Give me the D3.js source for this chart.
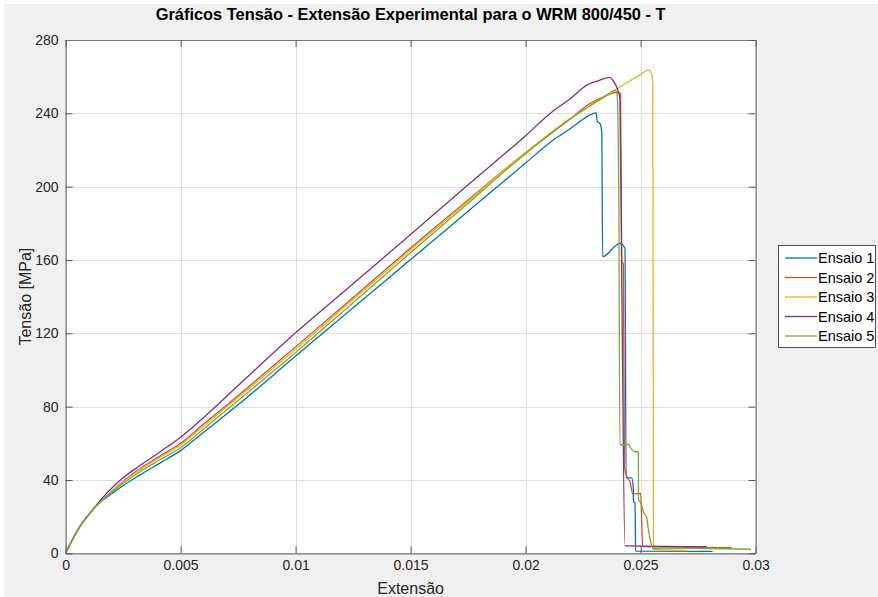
<!DOCTYPE html>
<html>
<head>
<meta charset="utf-8">
<script src="https://cdn.jsdelivr.net/npm/d3@7"></script>
<style>
  body { margin: 0; background: #fff; }
  svg { display: block; font-family: "Liberation Sans", Arial, sans-serif; }
</style>
</head>
<body>
<svg id="chart"></svg>
<script>
// data, [extensão, tensão MPa]
var seriesNames = ["Ensaio 1", "Ensaio 2", "Ensaio 3", "Ensaio 4", "Ensaio 5"];
var seriesColors = ["#0072BD", "#D95319", "#EDB120", "#7E2F8E", "#77AC30"];

var ensaio1 = [[0,0],[0.0003,7.5],[0.00063,14.8],[0.001,21],[0.0013,25.4],[0.0016,28.8],[0.002,32.5],
  [0.0025,37],[0.0032,42.5],[0.0041,49.2],[0.005,56],[0.006,66],[0.0075,81],[0.01,107.6],[0.0125,134],[0.015,160.2],
  [0.0175,186.6],[0.02,212.9],[0.0212,225.4],[0.0219,231.3],[0.02266,238.1],[0.02306,240.3],[0.02312,235.4],
  [0.02323,234.5],[0.02331,230],[0.02335,161.8],[0.0241,169.1],[0.02432,166.4],[0.02437,41.1],[0.02461,41.1],
  [0.02468,36.3],[0.02469,28.1],[0.02476,27.4],[0.02478,1.2],[0.02813,1.0]];

var ensaio2 = [[0,0],[0.0003,7.5],[0.00063,14.8],[0.001,21],[0.0013,25.4],[0.0016,29.3],[0.002,33.8],
  [0.0025,39.3],[0.0032,45.8],[0.0041,53],[0.005,60],[0.006,70.5],[0.0075,86],[0.01,112.6],[0.0125,139.5],[0.015,166.5],
  [0.0175,192.7],[0.02,218.6],[0.0219,236.5],[0.0227,244.5],[0.0235,249.5],[0.02396,251.5],[0.02413,250.9],
  [0.02418,159],[0.02425,158.2],[0.0243,47.2],[0.0244,41.8],[0.02454,39.1],[0.02466,32.3],[0.025,32.7],
  [0.02509,3.6],[0.02896,3.1]];

var ensaio3 = [[0,0],[0.0003,7.5],[0.00063,14.8],[0.001,21],[0.0013,25.4],[0.0016,29.2],[0.002,33.6],
  [0.0025,39],[0.0032,45.3],[0.0041,52.4],[0.005,59.1],[0.006,69.5],[0.0075,85],[0.01,111.3],[0.0125,138.4],[0.015,165.5],
  [0.0175,192],[0.02,218.6],[0.0219,236.7],[0.0235,249.5],[0.02454,257.8],[0.02497,260.9],[0.02533,263.6],
  [0.02548,261.4],[0.02553,255],[0.02556,2.2],[0.02704,1.5]];

var ensaio4 = [[0,0],[0.0003,7.5],[0.00063,14.8],[0.001,21],[0.0013,25.6],[0.0016,30.2],[0.002,35.5],
  [0.0025,41.2],[0.0032,47.6],[0.0041,55.3],[0.005,63.3],[0.006,74],[0.0075,91.5],[0.01,120.3],[0.0125,147],[0.015,173.9],
  [0.0175,201],[0.02,227.8],[0.0212,241.3],[0.0219,247.5],[0.02266,255.4],[0.02323,258.1],[0.02364,259.6],
  [0.02379,258.1],[0.02403,251.8],[0.0241,248],[0.02418,150],[0.02432,4],[0.02787,3.6]];

var ensaio5 = [[0,0],[0.0003,7.5],[0.00063,14.8],[0.001,21],[0.0013,25.4],[0.0016,29],[0.002,33.2],
  [0.0025,38.2],[0.0032,44.2],[0.0041,51],[0.005,57.6],[0.006,67.8],[0.0075,83.3],[0.01,109.5],[0.0125,136.7],[0.015,164],
  [0.0175,191],[0.02,218],[0.0219,236.7],[0.0235,249.8],[0.02381,252.3],[0.02389,252.7],[0.02398,250],
  [0.02405,200],[0.0241,59.1],[0.02447,59.6],[0.02454,58],[0.02476,55.4],[0.0249,55.4],[0.02491,29.1],
  [0.02502,27.3],[0.02512,22.7],[0.02527,19.1],[0.02534,12.7],[0.02545,5.5],[0.02555,2.7],[0.02606,2.9],
  [0.0298,2.2]];

var xTickValues = [0, 0.005, 0.01, 0.015, 0.02, 0.025, 0.03];
var xTickLabels = ["0", "0.005", "0.01", "0.015", "0.02", "0.025", "0.03"];
var yTickValues = [0, 40, 80, 120, 160, 200, 240, 280];

var allSeries = [ensaio1, ensaio2, ensaio3, ensaio4, ensaio5];

var width = 878;
var height = 597;
var padL = 65.6, padR = 755.6, padT = 40, padB = 553.3;

var svg = d3.select('#chart')
    .attr('width', width)
    .attr('height', height);

// figure background
svg.append('rect')
    .attr('x', 4).attr('y', 4)
    .attr('width', width - 4).attr('height', height - 4)
    .attr('fill', '#f0f0f0');

var xScale = d3.scaleLinear().domain([0, 0.03]).range([padL, padR]);
var yScale = d3.scaleLinear().domain([0, 280]).range([padB, padT]);

svg.append('rect')
    .attr('x', padL).attr('y', padT)
    .attr('width', padR - padL).attr('height', padB - padT)
    .attr('fill', '#fff');

// grid
var grid = svg.append('g').attr('stroke', '#dfdfdf').attr('stroke-width', 1);
grid.selectAll('.gx').data(xTickValues).enter().append('line')
    .attr('x1', d => Math.round(xScale(d)) + 0.5).attr('x2', d => Math.round(xScale(d)) + 0.5)
    .attr('y1', padT).attr('y2', padB);
grid.selectAll('.gy').data(yTickValues).enter().append('line')
    .attr('y1', d => Math.round(yScale(d)) + 0.5).attr('y2', d => Math.round(yScale(d)) + 0.5)
    .attr('x1', padL).attr('x2', padR);

svg.append('clipPath').attr('id', 'clip')
  .append('rect')
    .attr('x', padL).attr('y', padT)
    .attr('width', padR - padL).attr('height', padB - padT);

var line = d3.line()
    .curve(d3.curveMonotoneX)
    .x(d => xScale(d[0]))
    .y(d => yScale(d[1]));

svg.append('g').attr('clip-path', 'url(#clip)')
  .selectAll('path')
  .data(allSeries)
  .enter()
  .append('path')
    .attr('d', line)
    .attr('fill', 'none')
    .attr('stroke', (d, i) => seriesColors[i])
    .attr('stroke-width', 1.3)
    .attr('stroke-linejoin', 'round');

// axes, ticks pointing in like matlab
var axisColor = '#262626';
var xAxis = d3.axisBottom(xScale)
    .tickValues(xTickValues)
    .tickFormat((d, i) => xTickLabels[i])
    .tickSizeInner(-7).tickSizeOuter(0).tickPadding(7);
var yAxis = d3.axisLeft(yScale)
    .tickValues(yTickValues)
    .tickSizeInner(-7).tickSizeOuter(0).tickPadding(7);

var gx = svg.append('g')
    .attr('transform', 'translate(0,' + padB + ')')
    .call(xAxis);
var gy = svg.append('g')
    .attr('transform', 'translate(' + padL + ',0)')
    .call(yAxis);
var gxTop = svg.append('g')
    .attr('transform', 'translate(0,' + padT + ')')
    .call(d3.axisTop(xScale).tickValues(xTickValues).tickFormat('').tickSizeInner(-7).tickSizeOuter(0));
var gyRight = svg.append('g')
    .attr('transform', 'translate(' + padR + ',0)')
    .call(d3.axisRight(yScale).tickValues(yTickValues).tickFormat('').tickSizeInner(-7).tickSizeOuter(0));

[gx, gy, gxTop, gyRight].forEach(function(g) {
  g.select('.domain').attr('stroke', '#777').attr('stroke-width', 1.2);
  g.selectAll('.tick line').attr('stroke', '#555');
  g.selectAll('.tick text')
    .attr('fill', axisColor)
    .style('font-size', '14px')
    .style('font-family', '"Liberation Sans", Arial, sans-serif');
});

// title and labels
svg.append('text')
    .attr('x', (padL + padR) / 2)
    .attr('y', 20)
    .style('text-anchor', 'middle')
    .style('font-weight', 'bold')
    .style('font-size', '16.4px')
    .attr('fill', '#000')
    .text('Gráficos Tensão - Extensão Experimental para o WRM 800/450 - T');

svg.append('text')
    .attr('x', (padL + padR) / 2)
    .attr('y', 594)
    .style('text-anchor', 'middle')
    .style('font-size', '16px')
    .attr('fill', axisColor)
    .text('Extensão');

svg.append('text')
    .attr('transform', 'rotate(-90)')
    .attr('x', -(padT + padB) / 2)
    .attr('y', 31)
    .style('text-anchor', 'middle')
    .style('font-size', '16px')
    .attr('fill', axisColor)
    .text('Tensão [MPa]');

// legend
var legend = svg.append('g');
legend.append('rect')
    .attr('x', 778.5).attr('y', 245.5)
    .attr('width', 97).attr('height', 102)
    .attr('fill', '#fff')
    .attr('stroke', '#262626')
    .attr('stroke-width', 0.8);

var entry = legend.selectAll('.entry')
    .data(seriesNames)
    .enter()
    .append('g')
    .attr('transform', (d, i) => 'translate(0,' + (258 + i * 19.5) + ')');
entry.append('line')
    .attr('x1', 785).attr('x2', 817)
    .attr('y1', 0).attr('y2', 0)
    .attr('stroke', (d, i) => seriesColors[i])
    .attr('stroke-width', 1.3);
entry.append('text')
    .attr('x', 818)
    .attr('y', 0)
    .attr('dy', '0.35em')
    .style('font-size', '14.5px')
    .attr('fill', '#000')
    .text(d => d);
</script>
</body>
</html>
